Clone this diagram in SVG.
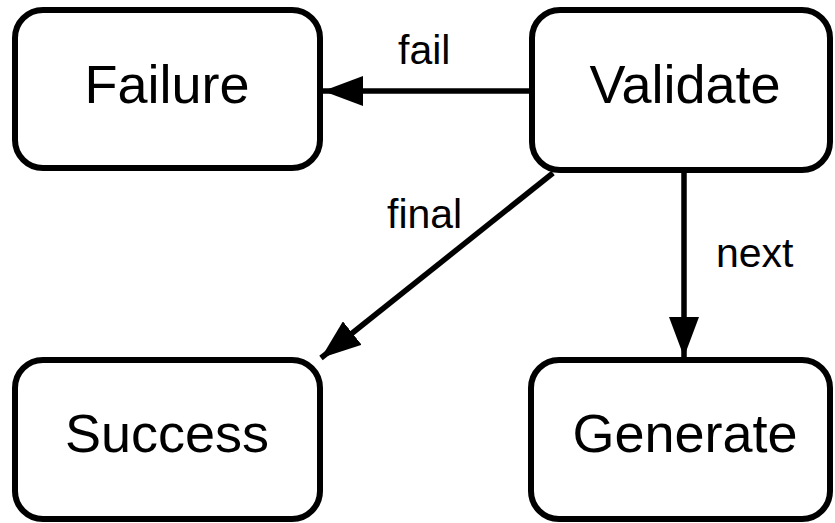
<svg xmlns="http://www.w3.org/2000/svg" width="835" height="523" viewBox="0 0 835 523">
  <defs>
    <marker id="arrow" markerUnits="userSpaceOnUse" markerWidth="40" markerHeight="30" refX="40" refY="15" orient="auto">
      <path d="M0,0 L40,15 L0,30 Z" fill="#000"/>
    </marker>
  </defs>
  <style>
    .box { fill: #fff; stroke: #000; stroke-width: 6; }
    .name { font-family: "Liberation Sans", Arial, sans-serif; font-size: 54px; text-anchor: middle; fill: #000; }
    .edge { stroke: #000; stroke-width: 5.5; fill: none; marker-end: url(#arrow); }
    .lbl { font-family: "Liberation Sans", Arial, sans-serif; font-size: 41px; fill: #000; }
  </style>
  <rect width="835" height="523" fill="#fff"/>

  <g id="connectors">
    <line class="edge" x1="530" y1="91" x2="323" y2="91"/>
    <line class="edge" x1="684" y1="172" x2="684" y2="357"/>
    <line class="edge" x1="553" y1="173" x2="321" y2="358"/>
    <text class="lbl" x="398" y="64">fail</text>
    <text class="lbl" x="387" y="228">final</text>
    <text class="lbl" x="716" y="267">next</text>
  </g>

  <g id="failure">
    <rect class="box" x="15" y="10" width="305" height="158" rx="28"/>
    <text class="name" x="167" y="103">Failure</text>
  </g>
  <g id="validate">
    <rect class="box" x="532" y="10" width="298" height="160" rx="28"/>
    <text class="name" x="685" y="103">Validate</text>
  </g>
  <g id="success">
    <rect class="box" x="15" y="360" width="305" height="159" rx="28"/>
    <text class="name" x="167" y="452">Success</text>
  </g>
  <g id="generate">
    <rect class="box" x="531" y="360" width="299" height="159" rx="28"/>
    <text class="name" x="685" y="452">Generate</text>
  </g>
</svg>
